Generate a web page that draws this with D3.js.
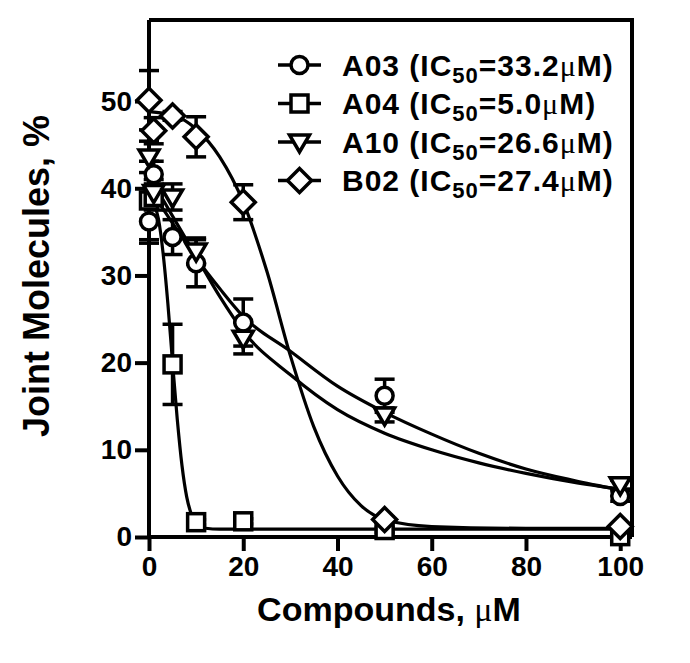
<!doctype html>
<html>
<head>
<meta charset="UTF-8">
<title>Joint molecules vs compounds</title>
<script src="https://d3js.org/d3.v7.min.js"></script>
<style>
  body { margin: 0; background: #fff; }
  text { font-family: "Liberation Sans", Arial, sans-serif; font-weight: bold; fill: #000; }
  .mu { font-family: "Liberation Serif", "DejaVu Serif", serif; font-weight: normal; }
</style>
</head>
<body>
<svg id="chart" width="690" height="663"></svg>
<script>
// measured concentrations
var conc = [0, 1, 5, 10, 20, 50, 100];

var a03Mean = [36.2, 41.6, 34.4, 31.4, 24.6, 16.2, 4.7];
var a03Err  = [2.5, 1.5, 2.0, 2.7, 2.7, 1.9, 0.6];
var a04Mean = [38.6, 39.0, 19.8, 1.7, 1.8, 0.8, 0.1];
var a04Err  = [4.5, 1.5, 4.6, 0.3, 0.3, 0.3, 0.3];
var a10Mean = [43.6, 39.5, 39.0, 32.8, 22.8, 14.0, 6.0];
var a10Err  = [1.8, 1.5, 1.5, 1.5, 1.8, 0.8, 0.5];
var b02Mean = [50.1, 46.6, 48.3, 45.9, 38.4, 2.0, 1.2];
var b02Err  = [3.4, 1.5, 0.5, 2.3, 2.0, 0.3, 0.3];

// fitted curves
var fitX    = [0, 2, 5, 10, 15, 20, 30, 40, 50, 60, 70, 80, 90, 100];
var a03Fit  = [39.8, 38.4, 36.0, 32.0, 28.5, 25.3, 21.3, 17.3, 14.3, 11.8, 9.6, 7.8, 6.5, 5.4];
var a10Fit  = [41.5, 39.6, 36.8, 32.2, 27.6, 23.6, 18.6, 14.6, 11.9, 10.0, 8.5, 7.3, 6.3, 5.5];
var a04FitX = [0, 1, 2, 3, 4, 5, 6, 7, 8, 9, 10, 12, 15, 20, 50, 100];
var a04Fit  = [39.0, 38.3, 36.5, 32.5, 26.8, 20.0, 13.5, 8.2, 4.6, 2.6, 1.6, 1.0, 0.9, 0.9, 0.9, 0.9];
var b02FitX = [0, 5, 10, 15, 20, 25, 30, 35, 40, 45, 50, 60, 80, 100];
var b02Fit  = [48.8, 48.4, 46.8, 43.6, 38.4, 30.5, 20.8, 12.6, 7.0, 3.6, 2.0, 1.2, 1.0, 1.0];

var names  = ["A03", "A04", "A10", "B02"];
var ic50   = ["33.2", "5.0", "26.6", "27.4"];
var shapes = ["circle", "square", "triangle", "diamond"];

var xTicks = [0, 20, 40, 60, 80, 100];
var yTicks = [0, 10, 20, 30, 40, 50];

var series = [
  { mean: a03Mean, err: a03Err, fx: fitX, fy: a03Fit },
  { mean: a04Mean, err: a04Err, fx: a04FitX, fy: a04Fit },
  { mean: a10Mean, err: a10Err, fx: fitX, fy: a10Fit },
  { mean: b02Mean, err: b02Err, fx: b02FitX, fy: b02Fit }
];

var svg = d3.select("#chart");
var pLeft = 149, pRight = 632, pTop = 20, pBottom = 537;

var x = d3.scaleLinear().domain([0, 102.5]).range([pLeft, pRight]);
var y = d3.scaleLinear().domain([0, 59.3]).range([pBottom, pTop]);

// frame
svg.append("path")
  .attr("d", "M" + pLeft + "," + pTop + "H" + pRight + "V" + pBottom)
  .attr("fill", "none").attr("stroke", "#000").attr("stroke-width", 4);

var xAxis = svg.append("g").attr("transform", "translate(0," + pBottom + ")")
  .call(d3.axisBottom(x).tickValues(xTicks).tickSize(14).tickPadding(5).tickSizeOuter(0));
var yAxis = svg.append("g").attr("transform", "translate(" + pLeft + ",0)")
  .call(d3.axisLeft(y).tickValues(yTicks).tickSize(14).tickPadding(3).tickSizeOuter(0));

[xAxis, yAxis].forEach(function (g) {
  g.select(".domain").attr("stroke-width", 4);
  g.selectAll(".tick line").attr("stroke-width", 4);
  g.selectAll(".tick text").style("font-size", "28px").style("font-family", "Liberation Sans, Arial, sans-serif")
    .style("font-weight", "bold").attr("fill", "#000");
});
xAxis.select(".domain").attr("d", "M" + (pLeft - 2) + ",0H" + pRight);
yAxis.select(".domain").attr("d", "M0," + (pBottom + 2) + "V" + pTop);

// axis titles
var xt = svg.append("text").attr("x", 389).attr("y", 621).attr("text-anchor", "middle")
  .style("font-size", "34px");
xt.append("tspan").text("Compounds, ");
xt.append("tspan").attr("class", "mu").text("μ");
xt.append("tspan").text("M");

svg.append("text").attr("transform", "translate(49,276) rotate(-90)")
  .attr("text-anchor", "middle").style("font-size", "36px")
  .text("Joint Molecules, %");

// markers
function marker(g, shape) {
  if (shape === "circle") {
    g.append("circle").attr("r", 8.5);
  } else if (shape === "square") {
    g.append("rect").attr("x", -8.5).attr("y", -8.5).attr("width", 17).attr("height", 17);
  } else if (shape === "triangle") {
    g.append("path").attr("d", "M-10,-7L10,-7L0,10Z");
  } else {
    g.append("path").attr("d", "M0,-12L12,0L0,12L-12,0Z");
  }
  g.selectAll("*").attr("fill", "#fff").attr("stroke", "#000").attr("stroke-width", 3.5);
}

var line = d3.line().x(function (d) { return x(d[0]); }).y(function (d) { return y(d[1]); })
  .curve(d3.curveMonotoneX);

// fitted curves
series.forEach(function (s) {
  svg.append("path")
    .datum(s.fx.map(function (v, i) { return [v, s.fy[i]]; }))
    .attr("d", line).attr("fill", "none").attr("stroke", "#000").attr("stroke-width", 3.2);
});

// error bars
series.forEach(function (s) {
  var eb = svg.append("g").attr("stroke", "#000").attr("stroke-width", 3.5);
  conc.forEach(function (c, i) {
    var hi = y(s.mean[i] + s.err[i]), lo = y(Math.max(0, s.mean[i] - s.err[i])), cx = x(c);
    eb.append("line").attr("x1", cx).attr("x2", cx).attr("y1", hi).attr("y2", lo);
    eb.append("line").attr("x1", cx - 10).attr("x2", cx + 10).attr("y1", hi).attr("y2", hi);
    eb.append("line").attr("x1", cx - 10).attr("x2", cx + 10).attr("y1", lo).attr("y2", lo);
  });
});

// points
series.forEach(function (s, k) {
  conc.forEach(function (c, i) {
    var g = svg.append("g").attr("transform", "translate(" + x(c) + "," + y(s.mean[i]) + ")");
    marker(g, shapes[k]);
  });
});

// legend
names.forEach(function (n, k) {
  var ly = 65 + k * 38.5;
  var g = svg.append("g").attr("transform", "translate(0," + ly + ")");
  g.append("line").attr("x1", 278).attr("x2", 321).attr("y1", 0).attr("y2", 0)
    .attr("stroke", "#000").attr("stroke-width", 3.5);
  var m = g.append("g").attr("transform", "translate(299.5,0)");
  marker(m, shapes[k]);
  var t = g.append("text").attr("x", 342).attr("y", 10.5).style("font-size", "30px")
    .style("letter-spacing", "1px");
  t.append("tspan").text(n + " (IC");
  t.append("tspan").attr("dy", 7).style("font-size", "22px").text("50");
  t.append("tspan").attr("dy", -7).text("=" + ic50[k]);
  t.append("tspan").attr("class", "mu").text("μ");
  t.append("tspan").text("M)");
});
</script>
</body>
</html>
